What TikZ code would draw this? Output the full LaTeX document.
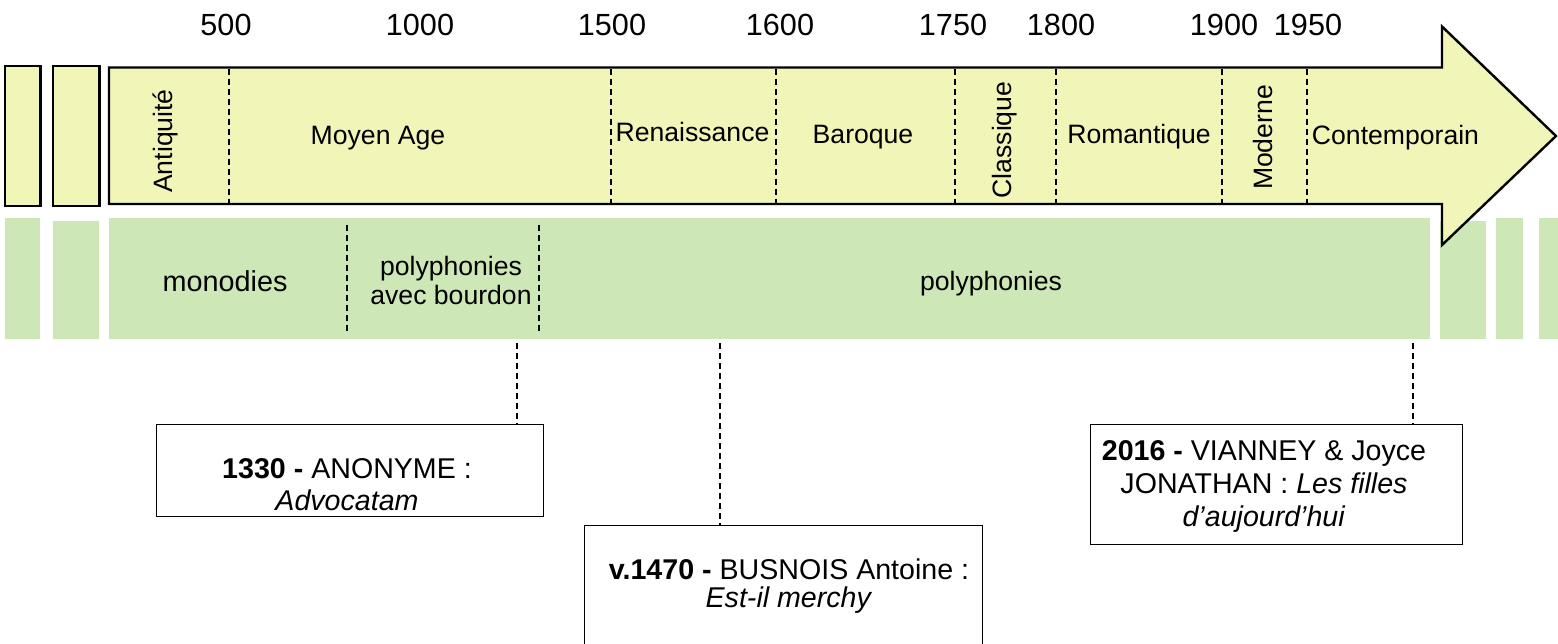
\documentclass[tikz,border=0pt]{standalone}
\usepackage{fontspec}
\setmainfont{Liberation Sans}
\definecolor{ylw}{RGB}{242,245,184}
\definecolor{grn}{RGB}{205,231,183}
\begin{document}
\begin{tikzpicture}[x=0.5pt,y=-0.5pt,
  yearlbl/.style={font=\fontsize{15.3}{18}\selectfont, anchor=base, inner sep=0},
  eralbl/.style={font=\fontsize{13.3}{16}\selectfont, anchor=base, inner sep=0},
  vertlbl/.style={font=\fontsize{13.3}{16}\selectfont, rotate=90, inner sep=0},
  bandlbl/.style={font=\fontsize{13.3}{14.5}\selectfont, anchor=base, align=center, inner sep=0},
  yellowshape/.style={draw=black, fill=ylw, line width=1.2pt, line join=miter},
  greenshape/.style={fill=grn},
  divider/.style={draw=black, line width=1.25pt, dash pattern=on 3pt off 2pt},
  framebox/.style={draw=black, line width=0.7pt, fill=white, rectangle, inner sep=0, anchor=north west},
  boxtext/.style={font=\fontsize{14.3}{16}\selectfont, anchor=base, align=center, inner sep=0}
]
\clip (0,0) rectangle (1558,643);
\fill[white] (0,0) rectangle (1558,643);

% green band
\fill[greenshape] (5,218) rectangle (40,339);
\fill[greenshape] (53.3,221) rectangle (99,339);
\fill[greenshape] (109,218) rectangle (1430,339);
\fill[greenshape] (1440,221) rectangle (1486,339);
\fill[greenshape] (1496,218) rectangle (1522.7,339);
\fill[greenshape] (1539,218) rectangle (1560,339);
\draw[divider] (347,225) -- (347,333);
\draw[divider] (539,225) -- (539,333);

% yellow time arrow
\draw[yellowshape] (5,66) rectangle (40.5,206);
\draw[yellowshape] (52.7,66) rectangle (99.3,206);
\draw[yellowshape] (109,67.5) -- (1442,67.5) -- (1442,26.5) -- (1556,136) -- (1442,245) -- (1442,204) -- (109,204) -- cycle;
\foreach \xx in {229,611,776,955,1056,1222,1307}{
  \draw[divider] (\xx,68.5) -- (\xx,203);
}

% years
\node[yearlbl] (y500) at (226,35) {500};
\node[yearlbl] (y1000) at (420,35) {1000};
\node[yearlbl] (y1500) at (612,35) {1500};
\node[yearlbl] (y1600) at (780,35) {1600};
\node[yearlbl] (y1750) at (953,35) {1750};
\node[yearlbl] (y1800) at (1061,35) {1800};
\node[yearlbl] (y1900) at (1224,35) {1900};
\node[yearlbl] (y1950) at (1308,35) {1950};

% eras
\node[vertlbl] (antiq) at (165.5,141) {Antiquité};
\node[eralbl] (moyen) at (378,144) {Moyen Age};
\node[eralbl] (renai) at (692.5,141) {Renaissance};
\node[eralbl] (baroq) at (863,143) {Baroque};
\node[vertlbl] (classi) at (1005,140) {Classique};
\node[eralbl] (roman) at (1139,143) {Romantique};
\node[vertlbl] (moder) at (1263,137.5) {Moderne};
\node[eralbl] (contem) at (1395.5,144) {Contemporain};

% band labels
\node[bandlbl, font=\fontsize{14.4}{16}\selectfont] (mono) at (225,291) {monodies};
\node[bandlbl] (polyb) at (451,304) {polyphonies\\avec bourdon};
\node[bandlbl] (poly) at (991,290) {polyphonies};

% boxes
\node[framebox, minimum width=193.5pt, minimum height=46pt] (box1) at (156,424) {};
\node[framebox, minimum width=199pt, minimum height=70pt] (box2) at (584,525) {};
\node[framebox, minimum width=186pt, minimum height=60pt] (box3) at (1090,424) {};

\node[boxtext, font=\fontsize{14.3}{16}\selectfont] (t1) at (347,510) {\textbf{1330 -} ANONYME :\\\textit{Advocatam}};
\node[boxtext, font=\fontsize{14.3}{14}\selectfont] (t2) at (789,607) {\textbf{v.1470 -} BUSNOIS Antoine :\\\textit{Est-il merchy}};
\node[boxtext, font=\fontsize{14.3}{16.5}\selectfont] (t3) at (1264,526) {\textbf{2016 -} VIANNEY \& Joyce\\JONATHAN : \textit{Les filles}\\\textit{d'aujourd'hui}};

% connectors
\coordinate (c1) at (517,343);
\coordinate (c2) at (720,343);
\coordinate (c3) at (1413,343);
\draw[divider] (c1) -- (c1 |- box1.north);
\draw[divider] (c2) -- (c2 |- box2.north);
\draw[divider] (c3) -- (c3 |- box3.north);
\end{tikzpicture}
\end{document}
